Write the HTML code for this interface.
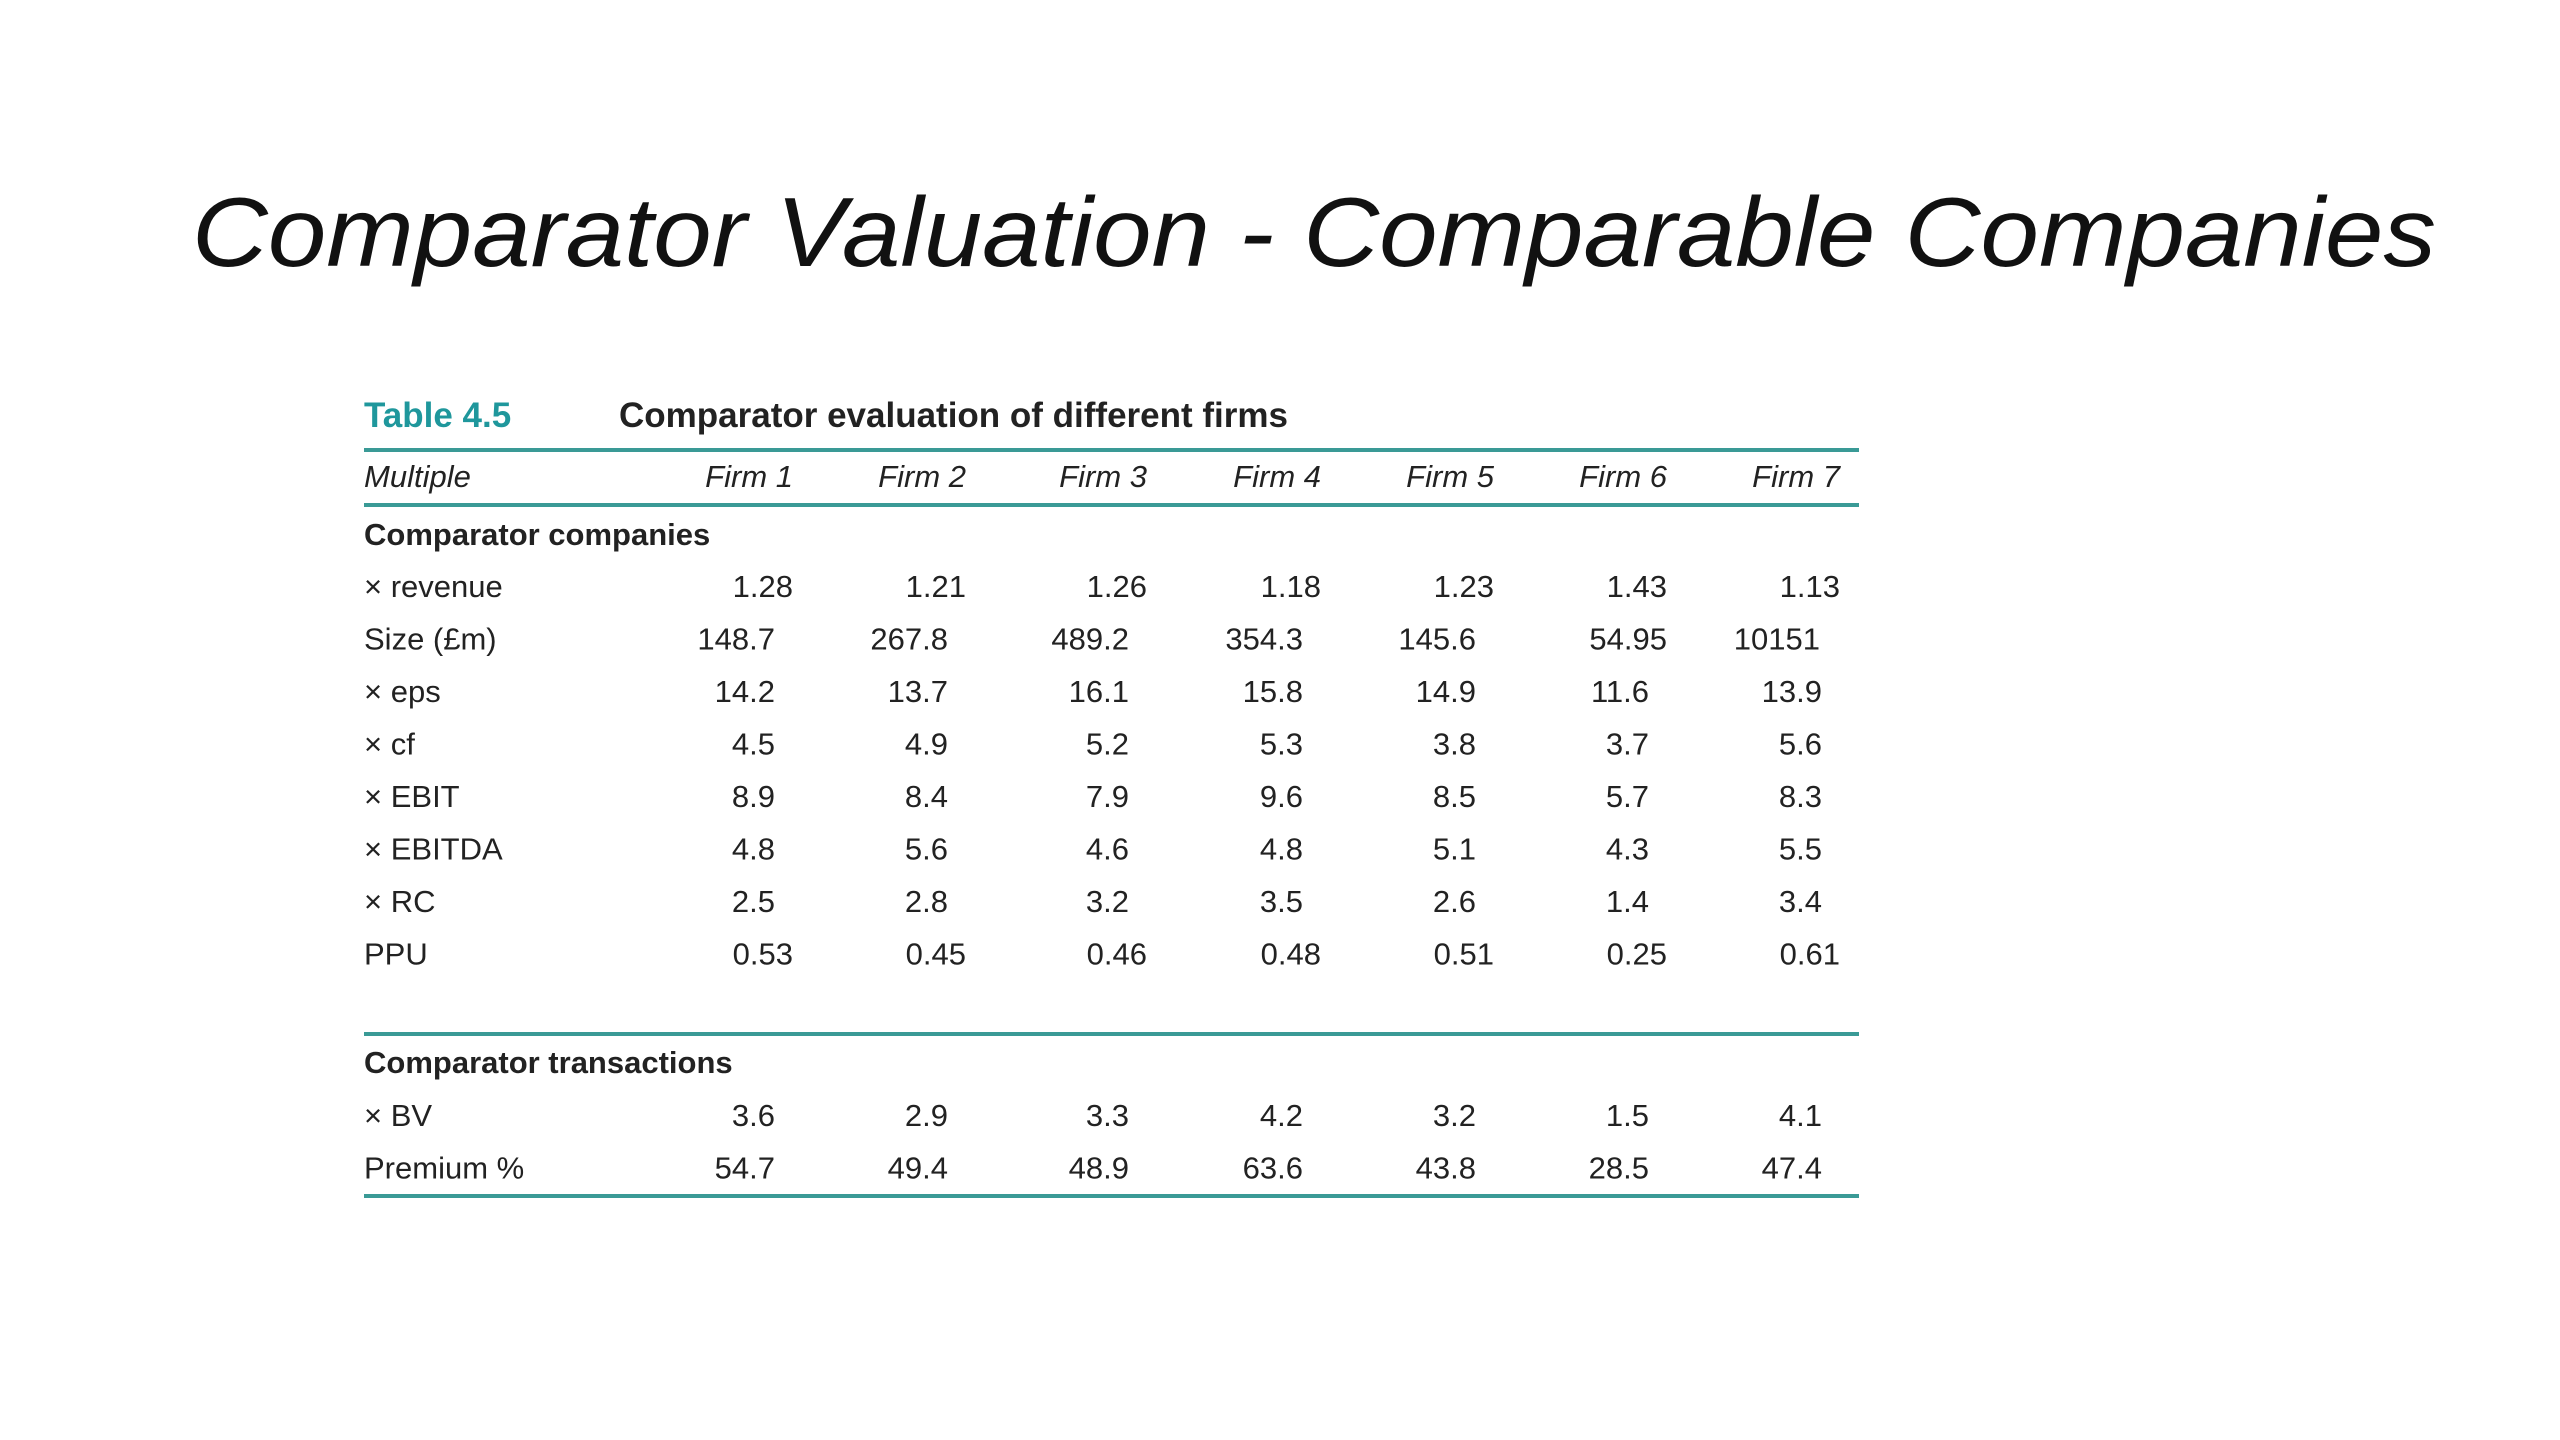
<!DOCTYPE html>
<html><head><meta charset="utf-8"><style>
html,body{margin:0;padding:0;background:#fff;}
svg{display:block;}
</style></head><body>
<svg id="slide" xmlns="http://www.w3.org/2000/svg" width="2560" height="1440" viewBox="0 0 2560 1440">
<rect width="2560" height="1440" fill="#fff"/>
<text x="192" y="266" font-family="Liberation Sans, sans-serif" font-style="italic" font-size="98" fill="#111" textLength="2244" lengthAdjust="spacingAndGlyphs">Comparator Valuation - Comparable Companies</text>
<g id="tbl" font-family="Liberation Sans, sans-serif" fill="#222"></g>
</svg>
<script>
const firms = ["Firm 1","Firm 2","Firm 3","Firm 4","Firm 5","Firm 6","Firm 7"];
const companyRows = ["× revenue","Size (£m)","× eps","× cf","× EBIT","× EBITDA","× RC","PPU"];
const companyValues = [
["1.28","1.21","1.26","1.18","1.23","1.43","1.13"],
["148.7","267.8","489.2","354.3","145.6","54.95","10151"],
["14.2","13.7","16.1","15.8","14.9","11.6","13.9"],
["4.5","4.9","5.2","5.3","3.8","3.7","5.6"],
["8.9","8.4","7.9","9.6","8.5","5.7","8.3"],
["4.8","5.6","4.6","4.8","5.1","4.3","5.5"],
["2.5","2.8","3.2","3.5","2.6","1.4","3.4"],
["0.53","0.45","0.46","0.48","0.51","0.25","0.61"]];
const transactionRows = ["× BV","Premium %"];
const transactionValues = [
["3.6","2.9","3.3","4.2","3.2","1.5","4.1"],
["54.7","49.4","48.9","63.6","43.8","28.5","47.4"]];

const NS="http://www.w3.org/2000/svg";
const g=document.getElementById('tbl');
const colRight=[793,966,1147,1321,1494,1667,1840];
const L=364,R=1859,teal="#3a9a96";
function txt(s,x,y,opt){const t=document.createElementNS(NS,'text');t.textContent=s;t.setAttribute('x',x);t.setAttribute('y',y);t.setAttribute('font-size',opt.size||31);if(opt.bold)t.setAttribute('font-weight','bold');if(opt.italic)t.setAttribute('font-style','italic');if(opt.anchor)t.setAttribute('text-anchor',opt.anchor);if(opt.fill)t.setAttribute('fill',opt.fill);g.appendChild(t);return t;}
function line(y,w){const l=document.createElementNS(NS,'rect');l.setAttribute('x',L);l.setAttribute('y',y-w/2);l.setAttribute('width',R-L);l.setAttribute('height',w);l.setAttribute('fill',teal);g.appendChild(l);return l;}
function offset(v){const i=v.indexOf('.');if(i<0)return 20;const d=v.length-i-1;return d>=2?0:18;}

let t=txt("Table 4.5",L,427,{size:35,bold:true,fill:"#1f979c"});


t=txt("Comparator evaluation of different firms",619,427,{size:35,bold:true});


let ln=line(450,4);


t=txt("Multiple",L,487,{italic:true});


firms.forEach((f,i)=>{const e=txt(f,colRight[i],487,{italic:true,anchor:'end'});

});
ln=line(505,4);


t=txt("Comparator companies",L,545,{bold:true});


function rows(labels,vals,y0){labels.forEach((lab,r)=>{const y=y0+r*52.5;
const lb=txt(lab,L,y,{});


vals[r].forEach((v,c)=>{const e=txt(v,colRight[c]-offset(v),y,{anchor:'end'});

});});}
rows(companyRows,companyValues,597);
ln=line(1034,4);


t=txt("Comparator transactions",L,1073,{bold:true});


rows(transactionRows,transactionValues,1126);
ln=line(1196,4);


</script>
</body></html>
